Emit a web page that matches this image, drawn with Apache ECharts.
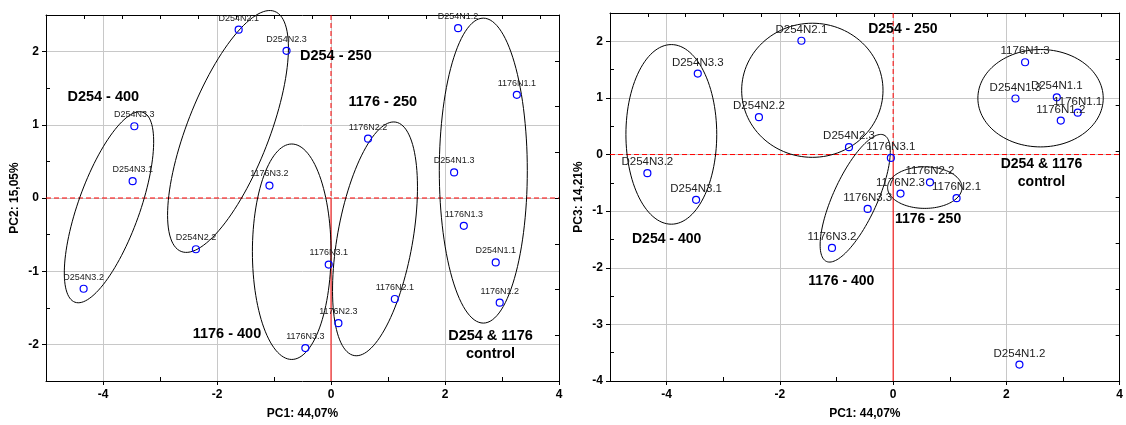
<!DOCTYPE html>
<html><head><meta charset="utf-8">
<script src="https://cdn.jsdelivr.net/npm/echarts@6/dist/echarts.min.js"></script>
<style>html,body{margin:0;padding:0;background:#fff}#c{width:1126px;height:425px}</style>
</head><body><div id="c"></div>
<script>
// ---------------- data ----------------
const sampleNames = ['D254N1.1','D254N1.2','D254N1.3','D254N2.1','D254N2.2','D254N2.3','D254N3.1','D254N3.2','D254N3.3',
                     '1176N1.1','1176N1.2','1176N1.3','1176N2.1','1176N2.2','1176N2.3','1176N3.1','1176N3.2','1176N3.3'];
const pc1 = [2.89, 2.23, 2.16, -1.62, -2.37, -0.78, -3.48, -4.34, -3.45, 3.26, 2.96, 2.33, 1.12, 0.65, 0.13, -0.04, -1.08, -0.45];
const pc2 = [-0.88, 2.32, 0.35, 2.30, -0.70, 2.01, 0.23, -1.24, 0.98, 1.41, -1.43, -0.38, -1.38, 0.81, -1.71, -0.91, 0.17, -2.05];
const pc3 = [1.01, -3.71, 0.99, 2.01, 0.66, 0.13, -0.80, -0.33, 1.43, 0.74, 0.60, 1.63, -0.77, -0.49, -0.69, -0.06, -1.65, -0.96];

const xTickValues = [-4, -2, 0, 2, 4];
const pc2TickValues = [-2, -1, 0, 1, 2];
const pc3TickValues = [-4, -3, -2, -1, 0, 1, 2];
const xMinorTicks = [-3, -1, 1, 3];
const pc2MinorTicks = [-2.5, -1.5, -0.5, 0.5, 1.5, 2.5];
const pc3MinorTicks = [-3.5, -2.5, -1.5, -0.5, 0.5, 1.5];

const xAxisName = 'PC1: 44,07%';
const pc2AxisName = 'PC2: 15,05%';
const pc3AxisName = 'PC3: 14,21%';

// group annotations: [x, y, text]
const groupLabelsPC2 = [
  [-3.995, 1.383, 'D254 - 400'],
  [0.085, 1.937, 'D254 - 250'],
  [0.909, 1.315, '1176 - 250'],
  [-1.825, -1.855, '1176 - 400'],
  [2.798, -2.003, 'D254 & 1176\ncontrol']
];
const groupLabelsPC3 = [
  [0.171, 2.211, 'D254 - 250'],
  [2.620, -0.330, 'D254 & 1176\ncontrol'],
  [0.617, -1.140, '1176 - 250'],
  [-4.0, -1.486, 'D254 - 400'],
  [-0.916, -2.233, '1176 - 400']
];

// group ellipses: [centerX, centerY, semiAxisA, semiAxisB (in PC1 units), angle in degrees]
const ellipsesPC2 = [
  [-3.895, -0.126, 1.77, 0.54, 70.3],
  [-1.807, 0.909, 2.26, 0.72, 68.7],
  [-0.689, -0.734, 1.89, 0.69, 90],
  [0.772, -0.558, 2.08, 0.66, 79.9],
  [2.672, 0.374, 2.675, 0.772, 90]
];
const ellipsesPC3 = [
  [-3.917, 0.356, 1.586, 0.802, 90],
  [-1.427, 1.135, 1.248, 1.184, 0],
  [-0.670, -0.772, 1.226, 0.389, 65.5],
  [0.559, -0.584, 0.657, 0.367, 0],
  [2.603, 0.995, 1.107, 0.860, 0]
];

// ---------------- chart ----------------
const FONT = 'Arial, "Liberation Sans", sans-serif';
const chart = echarts.init(document.getElementById('c'), null, {renderer: 'canvas'});

function axisNameStyle() { return {color: '#000', fontWeight: 'bold', fontSize: 12, fontFamily: FONT}; }

function xAxes(gi) {
  return [
    { gridIndex: gi, type: 'value', min: -5, max: 4, position: 'bottom',
      axisLine: {show: true, onZero: false, lineStyle: {color: '#000', width: 1}},
      axisTick: {show: true, inside: false, length: 4, customValues: xTickValues, lineStyle: {color: '#000'}},
      axisLabel: {show: true, customValues: xTickValues, color: '#000', fontWeight: 'bold', fontSize: 12, fontFamily: FONT, margin: 8},
      splitLine: {show: true, lineStyle: {color: '#c8c8c8', width: 1}},
      name: xAxisName, nameLocation: 'middle', nameGap: 27, nameTextStyle: axisNameStyle() },
    { gridIndex: gi, type: 'value', min: -5, max: 4, position: 'bottom',
      axisLine: {show: false, onZero: false},
      axisTick: {show: true, inside: true, length: 4, customValues: xMinorTicks, lineStyle: {color: '#000'}},
      axisLabel: {show: false}, splitLine: {show: false} },
    { gridIndex: gi, type: 'value', min: -5, max: 4, position: 'top', interval: 0.6667,
      axisLine: {show: true, onZero: false, lineStyle: {color: '#000', width: 1}},
      axisTick: {show: true, inside: true, length: 4, lineStyle: {color: '#000'}},
      axisLabel: {show: false}, splitLine: {show: false} }
  ];
}
function yAxes(gi, min, max, ticks, minor, rightInterval, name, gap) {
  return [
    { gridIndex: gi, type: 'value', min: min, max: max, position: 'left',
      axisLine: {show: true, onZero: false, lineStyle: {color: '#000', width: 1}},
      axisTick: {show: true, inside: false, length: 4, customValues: ticks, lineStyle: {color: '#000'}},
      axisLabel: {show: true, customValues: ticks, color: '#000', fontWeight: 'bold', fontSize: 12, fontFamily: FONT, margin: 7},
      splitLine: {show: true, lineStyle: {color: '#c8c8c8', width: 1}},
      name: name, nameLocation: 'middle', nameGap: gap, nameTextStyle: axisNameStyle() },
    { gridIndex: gi, type: 'value', min: min, max: max, position: 'left',
      axisLine: {show: false, onZero: false},
      axisTick: {show: true, inside: true, length: 4, customValues: minor, lineStyle: {color: '#000'}},
      axisLabel: {show: false}, splitLine: {show: false} },
    { gridIndex: gi, type: 'value', min: min, max: max, position: 'right', interval: rightInterval,
      axisLine: {show: true, onZero: false, lineStyle: {color: '#000', width: 1}},
      axisTick: {show: true, inside: true, length: 4, lineStyle: {color: '#000'}},
      axisLabel: {show: false}, splitLine: {show: false} }
  ];
}

function ellipseSeries(xi, yi, data) {
  return {
    type: 'custom', xAxisIndex: xi, yAxisIndex: yi, silent: true, clip: false, z: 3,
    data: data, encode: {x: 0, y: 1},
    renderItem: function (params, api) {
      const c = api.coord([api.value(0), api.value(1)]);
      const ppu = api.size([1, 0])[0];
      const a = api.value(2) * ppu, b = api.value(3) * ppu;
      const th = api.value(4) * Math.PI / 180;
      const pts = [];
      const n = 120;
      for (let i = 0; i <= n; i++) {
        const t = i / n * Math.PI * 2;
        const ex = a * Math.cos(t), ey = b * Math.sin(t);
        pts.push([c[0] + ex * Math.cos(th) - ey * Math.sin(th), c[1] - (ex * Math.sin(th) + ey * Math.cos(th))]);
      }
      return {type: 'polygon', shape: {points: pts}, style: {fill: 'none', stroke: '#000', lineWidth: 1}};
    }
  };
}

function refLine(xi, yi, pts, dashed) {
  return {
    type: 'line', xAxisIndex: xi, yAxisIndex: yi, z: 2, silent: true, symbol: 'none',
    lineStyle: {color: '#ff0000', width: 1, type: dashed ? [5, 3] : 'solid', opacity: 1},
    data: pts
  };
}

function pointSeries(xi, yi, ys, fontSize, dist) {
  return {
    type: 'scatter', xAxisIndex: xi, yAxisIndex: yi, z: 5,
    symbol: 'circle', symbolSize: 7,
    itemStyle: {color: 'rgba(255,255,255,0)', borderColor: '#0000ff', borderWidth: 1.2, opacity: 1},
    label: {show: true, position: 'top', distance: dist, formatter: '{b}', color: '#222', fontSize: fontSize, fontFamily: FONT},
    emphasis: {disabled: true},
    data: sampleNames.map((n, i) => ({name: n, value: [pc1[i], ys[i]]}))
  };
}

function groupSeries(xi, yi, labels, fontSize) {
  return {
    type: 'custom', xAxisIndex: xi, yAxisIndex: yi, z: 6, silent: true, clip: false,
    data: labels.map(l => [l[0], l[1]]), encode: {x: 0, y: 1},
    renderItem: function (params, api) {
      const p = api.coord([api.value(0), api.value(1)]);
      return {type: 'text', x: p[0], y: p[1],
        style: {text: labels[params.dataIndex][2], fill: '#000', font: 'bold ' + fontSize + 'px ' + FONT,
                align: 'center', verticalAlign: 'middle', lineHeight: 18}};
    }
  };
}

const option = {
  animation: false,
  backgroundColor: '#fff',
  grid: [
    {left: 46, top: 15, width: 513, height: 370},
    {left: 610, top: 13, width: 513, height: 371.8}
  ],
  xAxis: [].concat(xAxes(0), xAxes(1)),
  yAxis: [].concat(
    yAxes(0, -2.5, 2.5, pc2TickValues, pc2MinorTicks, 0.625, pc2AxisName, 25),
    yAxes(1, -4, 2.5, pc3TickValues, pc3MinorTicks, 0.8125, pc3AxisName, 25)
  ),
  series: [
    refLine(0, 0, [[-5, 0], [4, 0]], true),
    refLine(0, 0, [[0, 2.5], [0, 0]], true),
    refLine(0, 0, [[0, 0], [0, -2.5]], false),
    ellipseSeries(0, 0, ellipsesPC2),
    pointSeries(0, 0, pc2, 9, 3),
    groupSeries(0, 0, groupLabelsPC2, 14.5),
    refLine(3, 3, [[-5, 0], [4, 0]], true),
    refLine(3, 3, [[0, 2.5], [0, 0]], true),
    refLine(3, 3, [[0, 0], [0, -4]], false),
    ellipseSeries(3, 3, ellipsesPC3),
    pointSeries(3, 3, pc3, 11.5, 1),
    groupSeries(3, 3, groupLabelsPC3, 14)
  ]
};
chart.setOption(option);
</script>
</body></html>
